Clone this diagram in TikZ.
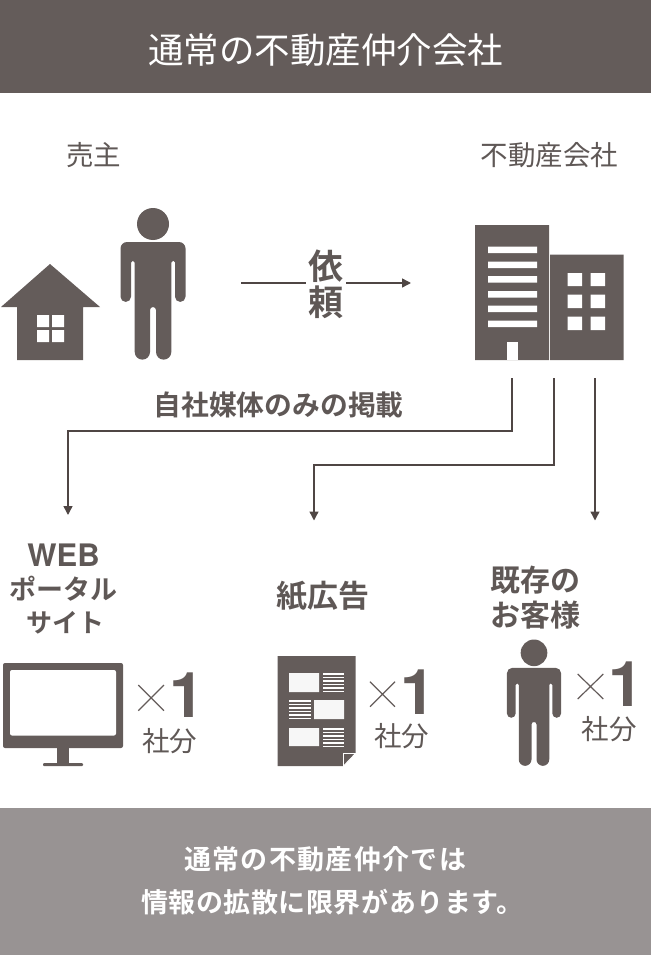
\documentclass[tikz,border=0pt]{standalone}
\usepackage{fontspec}
\setmainfont{Noto Sans CJK JP}
\newfontfamily\jp{Noto Sans CJK JP}
\newfontfamily\jpb{Noto Sans CJK JP Bold}
\newfontfamily\numf{TeX Gyre Heros}
\usetikzlibrary{arrows.meta}
\definecolor{dk}{HTML}{645C5A}
\definecolor{bandg}{HTML}{989393}
\definecolor{txt}{HTML}{5F5856}
\definecolor{linec}{HTML}{4F4644}
\newcommand{\fs}[1]{\fontsize{#1}{#1}\selectfont}
\newcommand{\personfig}{%
  \fill[dk] (0,16) circle (16);
  \fill[dk] (-26,34) -- (26,34) arc (-90:0:6.5) -- (32.5,88.7) arc (0:180:5.25) -- (22,54.5)
    arc (0:-180:1.85) -- (18.3,144) arc (0:180:7.65) -- (3,102) arc (0:-180:3) -- (-3,144)
    arc (0:180:7.65) -- (-18.3,54.5) arc (0:-180:1.85) -- (-22,88.7) arc (0:180:5.25)
    -- (-32.5,40.5) arc (180:270:6.5) -- cycle;
}
\tikzset{
  lbl/.style={text=txt,inner sep=0pt,font=\jp\fs{27.5}},
  blbl/.style={text=txt,inner sep=0pt,font=\jpb\fs{27.8},align=center},
  conn/.style={draw=linec,line width=1.4pt,-{Triangle[length=9pt,width=9pt]}},
  onelbl/.style={text=dk,inner sep=0pt,font=\numf\bfseries\fs{63}},
  timeslbl/.style={draw=dk,line width=1.2pt},
  footlbl/.style={inner sep=0pt,text=white,anchor=west,font=\jpb\fs{27}},
}
\begin{document}
\begin{tikzpicture}[x=1pt,y=1pt,yscale=-1]
\useasboundingbox (0,0) rectangle (651,955);
% bands
\fill[dk] (0,0) rectangle (651,93);
\fill[bandg] (0,808) rectangle (651,955);
\node[inner sep=0pt,text=white,font=\jp\fs{35.5}] (title) at (325.5,50) {通常の不動産仲介会社};
\node[footlbl] (foot1) at (184,859) {\addfontfeatures{LetterSpace=5}通常の不動産仲介では};
\node[footlbl] (foot2) at (141,902) {\addfontfeatures{LetterSpace=2}情報の拡散に限界があります。};
\node[lbl] (seller) at (93.5,155) {売主};
\node[lbl] (agency) at (549.5,155) {不動産会社};
% house
\fill[dk] (50,264) -- (100,307) -- (83,307) -- (83,360) -- (17,360) -- (17,307) -- (1,307) -- cycle;
\fill[white] (37,315) rectangle (49,327) (52,315) rectangle (64,327) (37,330) rectangle (49,342) (52,330) rectangle (64,342);
% person 1
\begin{scope}[shift={(153,208)}]\personfig\end{scope}
% request arrow
\coordinate (reqL) at (241,283);
\coordinate (reqR) at (411,283);
\draw[conn] (reqL) -- (reqR);
\node[fill=white,inner sep=0pt,text=txt,font=\jpb\fs{35},minimum width=40pt,minimum height=78pt,align=center] (req) at (325.5,284.5) {依\\[1pt]頼};
% building
\fill[dk] (475,225) rectangle (549,360) (550,254.5) rectangle (623.5,360);
\fill[white] (488,246.5) rectangle (537,253) (488,261.5) rectangle (537,268)
  (488,276) rectangle (537,282.5) (488,291) rectangle (537,297.5)
  (488,305.5) rectangle (537,312) (488,320.5) rectangle (537,327);
\fill[white] (507,341.5) rectangle (518,360);
\fill[white] (567.5,273) rectangle (582,286) (590.5,273) rectangle (605,286)
  (567.5,294.5) rectangle (582,308) (590.5,294.5) rectangle (605,308)
  (567.5,316.5) rectangle (582,330) (590.5,316.5) rectangle (605,330);
% connectors
\coordinate (a1) at (512,378); \coordinate (a2) at (68,515);
\coordinate (b1) at (554,378); \coordinate (b2) at (314,520.5);
\coordinate (c1) at (595,378); \coordinate (c2) at (595,520.5);
\draw[conn] (a1) -- (512,431) -- (68,431) -- (a2);
\draw[conn] (b1) -- (554,465) -- (314,465) -- (b2);
\draw[conn] (c1) -- (c2);
\node[blbl] (own) at (278.5,405) {自社媒体のみの掲載};
% channel labels
\node[blbl,font=\numf\bfseries\fs{31}] (web) at (63.5,555) {WEB};
\node[blbl,font=\jpb\fs{27}] (portal) at (63.5,588.5) {ポータル};
\node[blbl,font=\jpb\fs{26}] (site) at (65,623) {サイト};
\node[blbl,font=\jpb\fs{31}] (paper) at (323,596) {紙広告};
\node[blbl,font=\jpb\fs{30}] (exist1) at (535,580.5) {既存の};
\node[blbl,font=\jpb\fs{30}] (exist2) at (535,615) {お客様};
% monitor
\fill[dk,rounded corners=2pt] (3,663) rectangle (123,748);
\fill[white,rounded corners=2pt] (10,670) rectangle (116,735.5);
\fill[dk] (57,748) rectangle (69,763);
\fill[dk,rounded corners=1pt] (43,763) rectangle (83,766);
% paper
\fill[dk] (277.5,656) -- (355.5,656) -- (355.5,753) -- (343,766) -- (277.5,766) -- cycle;
\filldraw[fill=dk,draw=white,line width=0.9pt] (343.5,766) -- (343.5,753.5) -- (355.5,753.5) -- cycle;
\fill[white!97!black] (289,673) rectangle (319,692) (314,700) rectangle (344,719) (289,728) rectangle (319,746);
\foreach \yy in {673,676.5,680,683.5,687,690.5}{
  \fill[white] (322.5,\yy) rectangle (344,\yy+1.6);
  \fill[white] (322.5,\yy+55) rectangle (344,\yy+56.6);
  \fill[white] (289,\yy+27) rectangle (310.5,\yy+28.6);
}
% person 2
\begin{scope}[shift={(534,639.5)},scale=0.833]\personfig\end{scope}
% x1 marks
\draw[timeslbl] (138.3,685) -- (164,710.7) (164,685) -- (138.3,710.7);
\node[onelbl] (one1) at (187,695.5) {1};
\node[lbl] (sha1) at (169.5,741) {社分};
\draw[timeslbl] (370,681.7) -- (395,706.7) (395,681.7) -- (370,706.7);
\node[onelbl] (one2) at (418.5,692.5) {1};
\node[lbl] (sha2) at (401.5,736) {社分};
\draw[timeslbl] (577.7,674) -- (603.3,699) (603.3,674) -- (577.7,699);
\node[onelbl] (one3) at (626.5,684) {1};
\node[lbl] (sha3) at (609,729) {社分};
\end{tikzpicture}
\end{document}
